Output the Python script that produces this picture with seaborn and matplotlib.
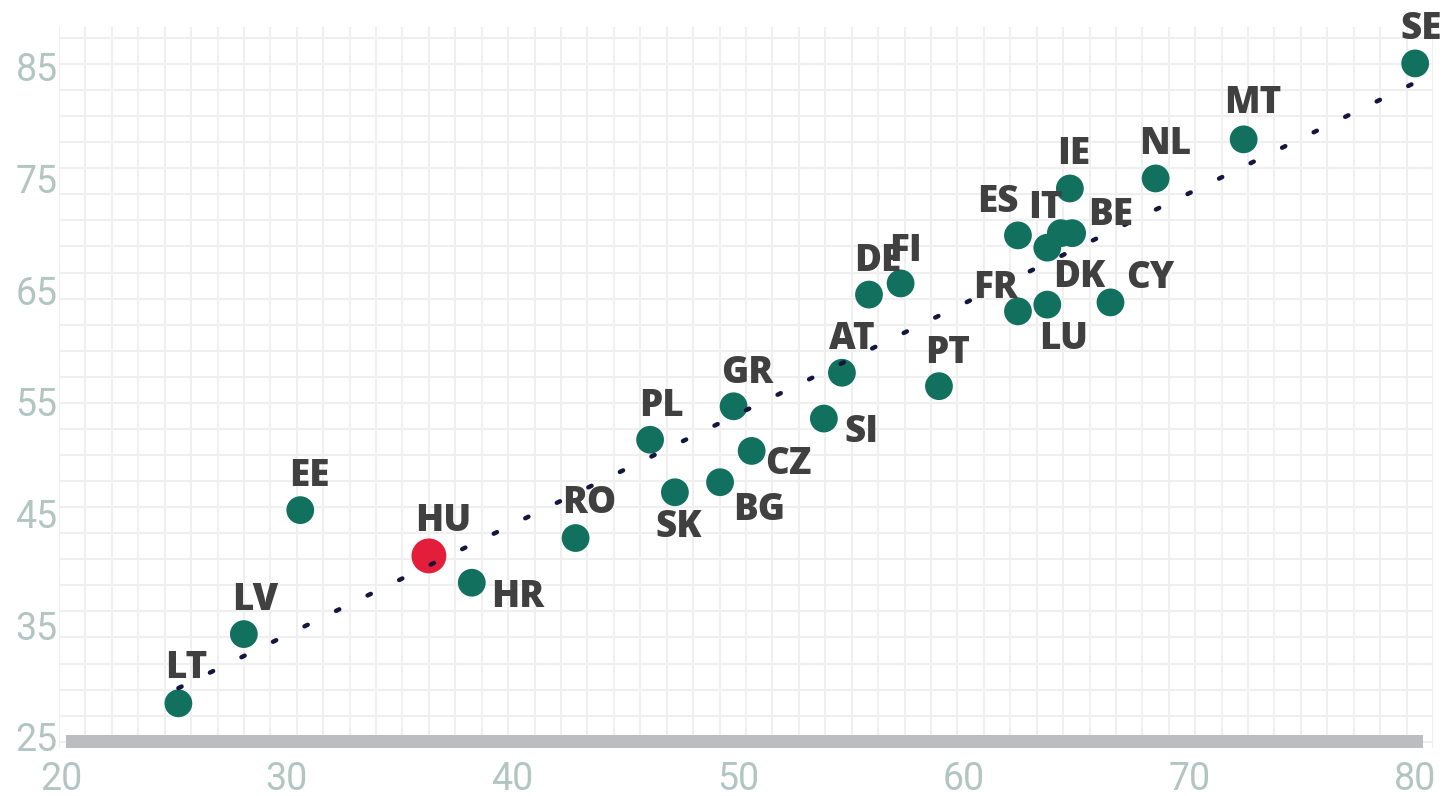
import numpy as np
import pandas as pd
import matplotlib.pyplot as plt
import seaborn as sns

# country codes and values
countries = ["SE", "MT", "NL", "IE", "ES", "IT", "BE", "DK", "FR", "LU", "CY",
             "DE", "FI", "AT", "PT", "SI", "GR", "CZ", "BG", "PL", "SK", "RO",
             "HU", "HR", "EE", "LV", "LT"]
x_vals = [80.0, 72.4, 68.5, 64.7, 62.4, 64.3, 64.8, 63.7, 62.4, 63.7, 66.5,
          55.8, 57.2, 54.6, 58.9, 53.8, 49.8, 50.6, 49.2, 46.1, 47.2, 42.8,
          36.3, 38.2, 30.6, 28.1, 25.2]
y_vals = [85.3, 78.5, 75.0, 74.1, 69.9, 70.1, 70.1, 68.8, 63.1, 63.7, 63.9,
          64.6, 65.6, 57.6, 56.4, 53.5, 54.6, 50.6, 47.8, 51.6, 46.9, 42.8,
          41.2, 38.8, 45.3, 34.2, 28.0]
x_ticks = [20, 30, 40, 50, 60, 70, 80]
y_ticks = [25, 35, 45, 55, 65, 75, 85]
highlight = "HU"

# label offsets in pixels (layout only)
label_offsets = {
    "SE": (6, 34), "MT": (9, 36), "NL": (10, 34), "IE": (4, 34), "ES": (-20, 33),
    "IT": (-15, 25), "BE": (39, 18), "DK": (32, -30), "FR": (-22, 23),
    "LU": (16, -35), "CY": (40, 24), "DE": (9, 33), "FI": (5, 32), "AT": (10, 33),
    "PT": (9, 33), "SI": (38, -14), "GR": (14, 33), "CZ": (37, -14),
    "BG": (39, -28), "PL": (11, 33), "SK": (4, -35), "RO": (14, 35),
    "HU": (14, 34), "HR": (46, -15), "EE": (9, 34), "LV": (11, 34), "LT": (8, 35),
}

df = pd.DataFrame({"country": countries, "x": x_vals, "y": y_vals})
df["group"] = np.where(df["country"] == highlight, "hl", "base")

sns.set_theme(style="white")
plt.rcParams["font.family"] = ["Roboto", "DejaVu Sans"]

fig = plt.figure(figsize=(14.43, 7.96), dpi=100)
W, H = 1443, 796
ax = fig.add_axes([59 / W, 1 - 748 / H, 1374 / W, 721 / H])

# pixel -> data mapping used for the axis frame
x_lo, x_hi = 19.91, 80.79
y_lo, y_hi = 24.0, 88.56
ax.set_xlim(x_lo, x_hi)
ax.set_ylim(y_lo, y_hi)

# decorative square grid
vgrid = x_lo + np.arange(53) * (x_hi - x_lo) / 52
hgrid = 87.58 - np.arange(28) * 2.334
ax.set_xticks(vgrid, minor=True)
ax.set_yticks(hgrid, minor=True)
ax.grid(which="minor", color="#efefef", linewidth=1.5)
ax.grid(which="major", visible=False)
ax.set_axisbelow(True)

# grey baseline bar
ax.axhspan(y_lo, 25.18, xmin=7 / 1374, xmax=1364 / 1374, color="#bcbdc0", lw=0, zorder=1)

sns.scatterplot(data=df, x="x", y="y", hue="group", size="group",
                palette={"base": "#12705f", "hl": "#e31d3a"},
                sizes={"base": 400, "hl": 630}, linewidth=0, legend=False,
                ax=ax, zorder=3)

sns.regplot(data=df, x="x", y="y", scatter=False, ci=None, truncate=True,
            color="#15163d", ax=ax,
            line_kws=dict(lw=3.2, linestyle=(0, (0.8, 7.1)),
                          dash_capstyle="round", zorder=4))

for c, xv, yv in zip(countries, x_vals, y_vals):
    dx, dy = label_offsets[c]
    ax.annotate(c, (xv, yv), xytext=(dx, dy), textcoords="offset pixels",
                ha="center", va="center", fontsize=26.5, fontweight="heavy",
                family=["Open Sans", "DejaVu Sans"], color="#404040", zorder=5)

ax.set_xticks(x_ticks)
ax.set_yticks(y_ticks)
ax.set_xticklabels([str(t) for t in x_ticks])
ax.set_yticklabels([str(t) for t in y_ticks])
ax.tick_params(which="both", length=0)
ax.tick_params(axis="x", pad=9, labelsize=27, labelcolor="#b2c5c1")
ax.tick_params(axis="y", pad=1, labelsize=27, labelcolor="#b2c5c1")
ax.set_xlabel("")
ax.set_ylabel("")
for s in ax.spines.values():
    s.set_visible(False)

fig.savefig("out.png", dpi=100)
